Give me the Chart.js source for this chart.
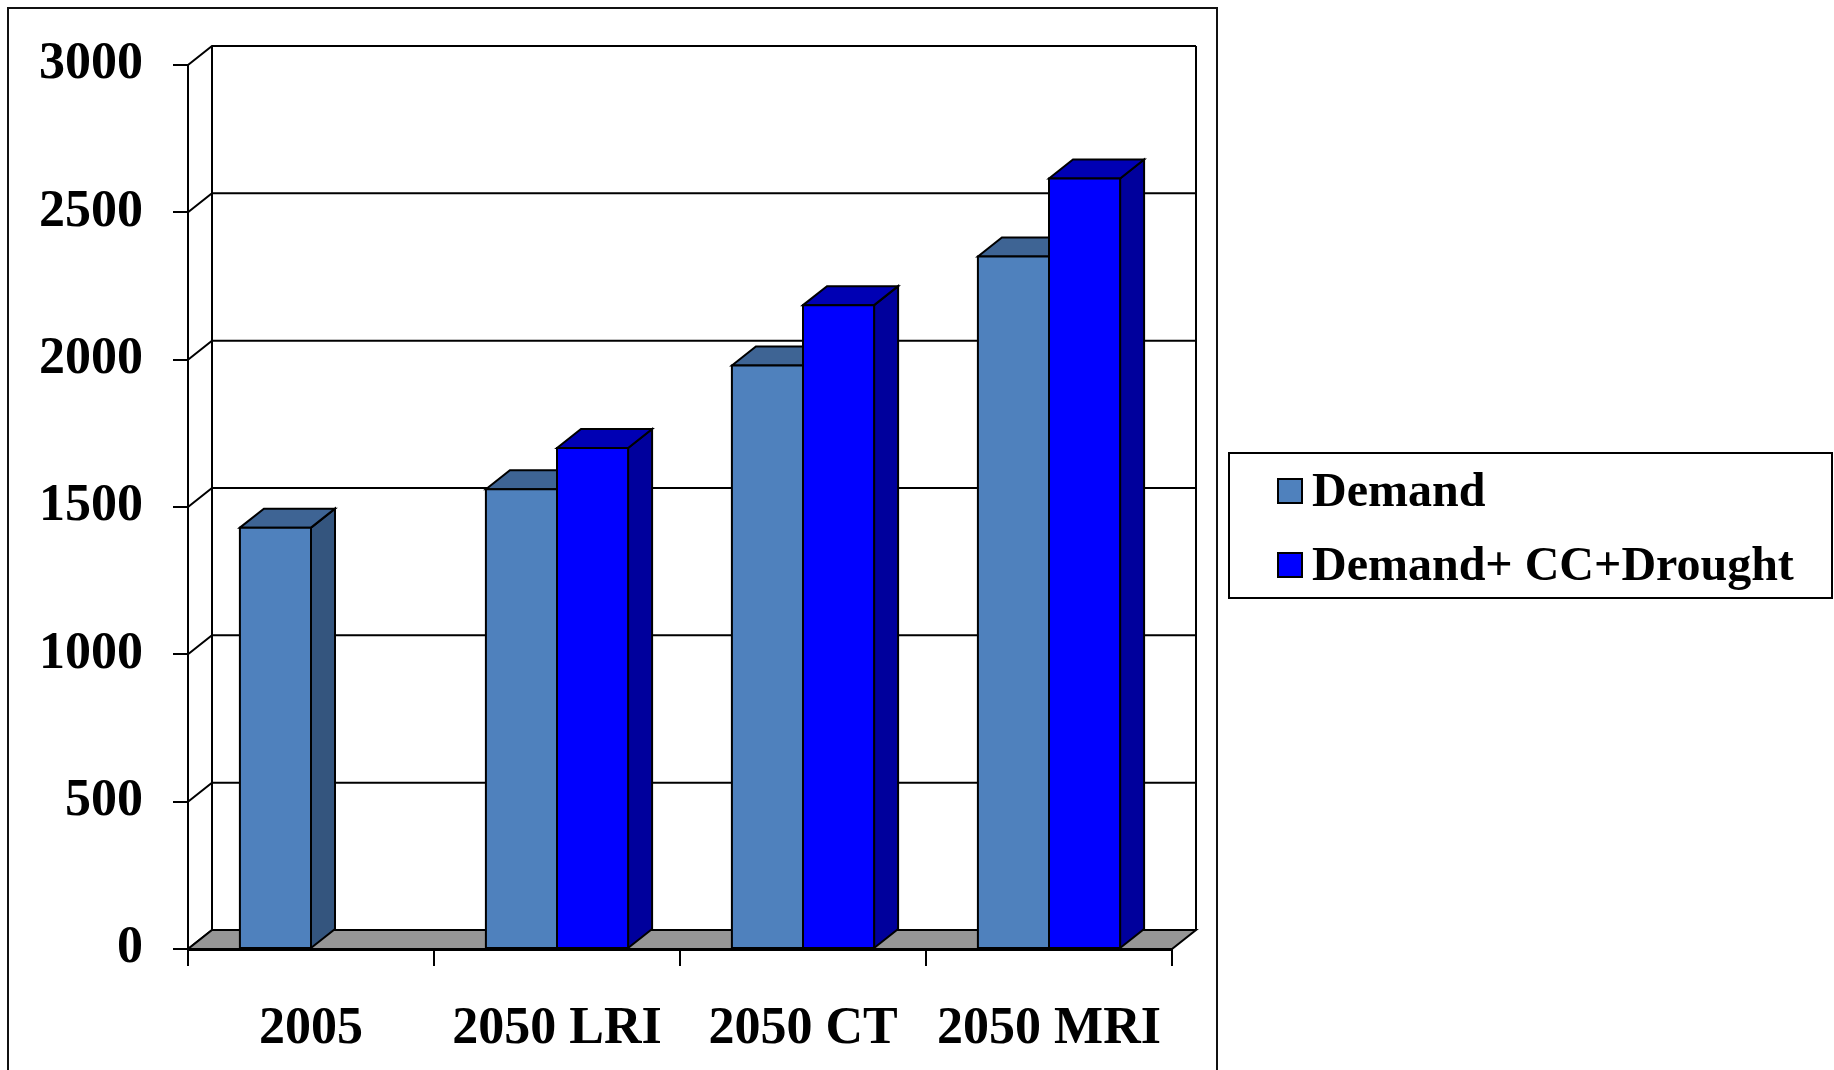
<!DOCTYPE html>
<html>
<head>
<meta charset="utf-8">
<title>Demand</title>
<script src="https://cdn.jsdelivr.net/npm/chart.js@4.4.0/dist/chart.umd.min.js"></script>
<style>
    html, body { margin: 0; padding: 0; background: #fff; }
    #wrap { position: relative; width: 1834px; height: 1070px; }
</style>
</head>
<body>
<div id="wrap"><canvas id="demand-chart"></canvas></div>
<script>
"use strict";

var categories = ['2005', '2050 LRI', '2050 CT', '2050 MRI'];
var demand = [1430, 1560, 1980, 2350];
var demandCC = [null, 1700, 2185, 2615];
var yTicks = [0, 500, 1000, 1500, 2000, 2500, 3000];

var seriesNames = ['Demand', 'Demand+ CC+Drought'];
// front, top, side shades for each series
var shades = [
    ['#4f81bd', '#3e6494', '#34557e'],
    ['#0000ff', '#0000b4', '#00009c']
];

var DX = 24, DY = -19;
var FONT = '"Liberation Serif", "Times New Roman", serif';

function poly(ctx, pts, fill){
    ctx.beginPath();
    ctx.moveTo(pts[0][0], pts[0][1]);
    for(var i = 1; i < pts.length; i++){
        ctx.lineTo(pts[i][0], pts[i][1]);
    }
    ctx.closePath();
    if(fill){
        ctx.fillStyle = fill;
        ctx.fill();
    }
    ctx.stroke();
}

// back wall, left wall and floor
var wallsPlugin = {
    id: 'walls',
    beforeDraw: function(chart){
        var ctx = chart.ctx;
        var a = chart.chartArea;
        var y = chart.scales.y;
        ctx.save();
        ctx.strokeStyle = '#000';
        ctx.lineWidth = 2;

        yTicks.forEach(function(v){
            var py = y.getPixelForValue(v);
            ctx.beginPath();
            ctx.moveTo(a.left, py);
            ctx.lineTo(a.left + DX, py + DY);
            if(v > 0){
                ctx.lineTo(a.right + DX, py + DY);
            }
            ctx.stroke();
        });

        ctx.beginPath();
        ctx.moveTo(a.left + DX, a.top + DY);
        ctx.lineTo(a.left + DX, a.bottom + DY);
        ctx.moveTo(a.right + DX, a.top + DY);
        ctx.lineTo(a.right + DX, a.bottom + DY);
        ctx.stroke();

        poly(ctx, [[a.left, a.bottom], [a.right, a.bottom], [a.right + DX, a.bottom + DY], [a.left + DX, a.bottom + DY]], '#969696');

        // outer frame
        ctx.lineWidth = 2;
        ctx.strokeStyle = '#111';
        ctx.strokeRect(8, 8, 1209, 1090);
        ctx.restore();
    },
    afterDatasetsDraw: function(chart){
        var ctx = chart.ctx;
        ctx.save();
        ctx.strokeStyle = '#000';
        ctx.lineWidth = 2;
        ctx.lineJoin = 'miter';
        for(var i = 0; i < categories.length; i++){
            chart.data.datasets.forEach(function(ds, di){
                var bar = chart.getDatasetMeta(di).data[i];
                if(!bar || ds.data[i] == null) return;
                var p = bar.getProps(['x', 'y', 'base', 'width'], true);
                var l = p.x - p.width / 2, r = p.x + p.width / 2;
                var c = shades[di];
                poly(ctx, [[r, p.y], [r + DX, p.y + DY], [r + DX, p.base + DY], [r, p.base]], c[2]);
                poly(ctx, [[l, p.y], [l + DX, p.y + DY], [r + DX, p.y + DY], [r, p.y]], c[1]);
                poly(ctx, [[l, p.y], [r, p.y], [r, p.base], [l, p.base]], c[0]);
            });
        }
        ctx.restore();
    },
    afterDraw: function(chart){
        // legend box on the right
        var ctx = chart.ctx;
        ctx.save();
        ctx.strokeStyle = '#000';
        ctx.lineWidth = 2;
        ctx.strokeRect(1229, 453, 603, 145);
        ctx.font = 'bold 48px ' + FONT;
        ctx.textBaseline = 'middle';
        ctx.textAlign = 'left';
        var rows = [491, 565];
        chart.data.datasets.forEach(function(ds, di){
            ctx.fillStyle = ds.backgroundColor;
            ctx.fillRect(1278, rows[di] - 12, 24, 24);
            ctx.strokeRect(1278, rows[di] - 12, 24, 24);
            ctx.fillStyle = '#000';
            ctx.fillText(ds.label, 1312, rows[di] + 3);
        });
        ctx.restore();
    }
};

var ctx1 = document.getElementById('demand-chart').getContext('2d');
new Chart(ctx1, {
    type: 'bar',
    data: {
        labels: categories,
        datasets: [{
            label: seriesNames[0],
            data: demand,
            backgroundColor: shades[0][0],
            borderColor: '#000',
            borderWidth: 2
        }, {
            label: seriesNames[1],
            data: demandCC,
            backgroundColor: shades[1][0],
            borderColor: '#000',
            borderWidth: 2
        }]
    },
    options: {
        responsive: true,
        maintainAspectRatio: false,
        animation: false,
        categoryPercentage: 0.578,
        barPercentage: 1,
        layout: {
            padding: { top: 65, right: 662, left: 0, bottom: 0 }
        },
        plugins: {
            legend: { display: false },
            tooltip: { enabled: false }
        },
        scales: {
            y: {
                min: 0,
                max: 3000,
                afterFit: function(scale){ scale.width = 188; },
                ticks: {
                    stepSize: 500,
                    padding: 30,
                    color: '#000',
                    font: { family: FONT, size: 52, weight: 'bold' },
                    callback: function(v){ return String(v); }
                },
                grid: {
                    drawOnChartArea: false,
                    drawTicks: true,
                    tickLength: 15,
                    color: '#000',
                    lineWidth: 2
                },
                border: { display: true, color: '#000', width: 2 }
            },
            x: {
                afterFit: function(scale){ scale.height = 121; },
                ticks: {
                    padding: 32,
                    color: '#000',
                    font: { family: FONT, size: 52, weight: 'bold' }
                },
                grid: {
                    offset: true,
                    drawOnChartArea: false,
                    drawTicks: true,
                    tickLength: 17,
                    color: '#000',
                    lineWidth: 2
                },
                border: { display: true, color: '#000', width: 3 }
            }
        }
    },
    plugins: [wallsPlugin]
});
</script>
</body>
</html>
